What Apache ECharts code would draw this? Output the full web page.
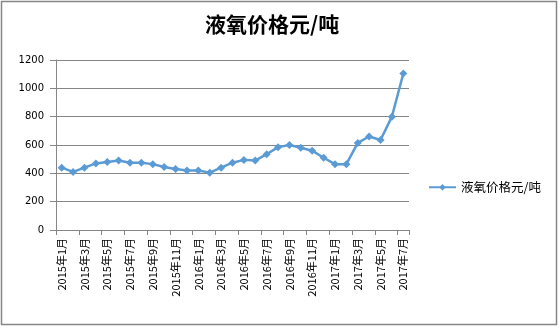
<!DOCTYPE html>
<html><head><meta charset="utf-8">
<script src="https://cdn.jsdelivr.net/npm/echarts@6/dist/echarts.min.js"></script>
<style>html,body{margin:0;padding:0;background:#fff}#c{width:559px;height:328px}</style>
</head><body><div id="c"></div>
<script>
var categories = ['2015年1月','2015年2月','2015年3月','2015年4月','2015年5月','2015年6月','2015年7月','2015年8月','2015年9月','2015年10月','2015年11月','2015年12月',
'2016年1月','2016年2月','2016年3月','2016年4月','2016年5月','2016年6月','2016年7月','2016年8月','2016年9月','2016年10月','2016年11月','2016年12月',
'2017年1月','2017年2月','2017年3月','2017年4月','2017年5月','2017年6月','2017年7月'];
var seriesName = '液氧价格元/吨';
var prices = [440,410,440,470,480,490,475,475,465,445,430,420,420,405,440,475,495,490,535,585,600,580,560,510,465,465,615,660,635,800,1105];
var yTicks = {min:0, max:1200, interval:200};

var chart = echarts.init(document.getElementById('c'));
var axisGray = '#868686';
chart.setOption({
  animation:false,
  title:{text:'液氧价格元/吨', left:200, top:9,
    textStyle:{fontFamily:'Noto Sans CJK SC', fontWeight:'bold', fontSize:21, color:'#000'}},
  graphic:[{type:'rect', shape:{x:1.5,y:1.5,width:555,height:323}, style:{fill:'none', stroke:axisGray, lineWidth:1.5}}],
  legend:{show:true, data:[seriesName], orient:'vertical', left:423, top:176, itemWidth:27, itemHeight:8, itemGap:4,
    textStyle:{fontFamily:'Noto Sans CJK SC', fontSize:12.5, color:'#000'}},
  grid:{left:56, right:150, top:60, bottom:98},
  xAxis:{type:'category', data:categories, boundaryGap:true,
    axisLine:{lineStyle:{color:axisGray, width:1}},
    axisTick:{show:true, interval:1, length:5, lineStyle:{color:axisGray}},
    axisLabel:{interval:1, rotate:90, margin:8, color:'#000', fontFamily:'Noto Sans CJK SC', fontSize:11}},
  yAxis:{type:'value', min:yTicks.min, max:yTicks.max, interval:yTicks.interval,
    axisLine:{show:true, lineStyle:{color:axisGray}},
    axisTick:{show:true, length:6, lineStyle:{color:axisGray}},
    splitLine:{lineStyle:{color:axisGray, width:1}},
    axisLabel:{margin:12, color:'#000', fontFamily:'DejaVu Sans', fontSize:10, formatter:function(v){return String(v);}}},
  series:[{name:seriesName, type:'line', data:prices, symbol:'diamond', symbolSize:8, showAllSymbol:true,
    lineStyle:{color:'#5B9BD5', width:2.5}, itemStyle:{color:'#5B9BD5'}}]
});
</script></body></html>
